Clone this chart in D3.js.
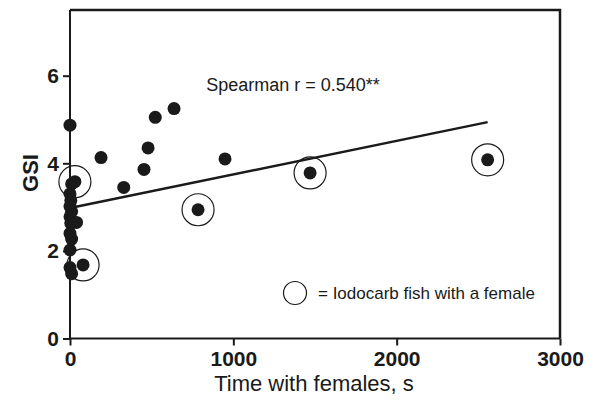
<!DOCTYPE html>
<html>
<head>
<meta charset="utf-8">
<script src="https://cdn.jsdelivr.net/npm/d3@7"></script>
<style>
  body { margin: 0; background: #fff; }
  svg { display: block; font-family: "Liberation Sans", Arial, sans-serif; }
  .axis path, .axis line { stroke: #1a1a1a; stroke-width: 2; }
  .axis text { font-size: 21px; font-weight: bold; fill: #1a1a1a; }
</style>
</head>
<body>
<svg id="chart"></svg>
<script>
// plain fish (filled dots)
let timeS = [0, 10, 0, 5, 0, 10, 0, 40, 5, 0, 10, 0, 0, 10,
    190, 329, 453, 478, 522, 637, 949];
let gsi = [4.87, 3.53, 3.30, 3.15, 3.02, 2.90, 2.78, 2.65, 2.63, 2.40, 2.27, 2.02, 1.62, 1.48,
    4.13, 3.45, 3.86, 4.35, 5.05, 5.25, 4.10];

// Iodocarb fish with a female (circled dots)
let circTime = [30, 80, 784, 1470, 2557];
let circGsi = [3.58, 1.68, 2.94, 3.78, 4.08];

// regression line ends
let fitX = [0, 2557];
let fitY = [2.98, 4.94];

let xTicks = [0, 1000, 2000, 3000];
let yTicks = [0, 2, 4, 6];

let width = 594, height = 404;
let plotL = 70, plotR = 560, plotT = 10, plotB = 338.5;

let svg = d3.select('#chart')
    .attr('width', width)
    .attr('height', height);

let x = d3.scaleLinear().domain([0, 3000]).range([plotL, plotR]);
let y = d3.scaleLinear().domain([0, 7.5]).range([plotB, plotT]);

// frame (top + right)
svg.append('path')
    .attr('d', 'M' + plotL + ',' + plotT + 'H' + plotR + 'V' + plotB)
    .attr('fill', 'none')
    .attr('stroke', '#1a1a1a')
    .attr('stroke-width', 2.5);

let xAxis = svg.append('g')
    .attr('class', 'axis')
    .attr('transform', 'translate(0,' + plotB + ')')
    .call(d3.axisBottom(x).tickValues(xTicks).tickFormat(d3.format('d')).tickSizeOuter(0).tickSize(7).tickPadding(6));

let yAxis = svg.append('g')
    .attr('class', 'axis')
    .attr('transform', 'translate(' + plotL + ',0)')
    .call(d3.axisLeft(y).tickValues(yTicks).tickSizeOuter(0).tickSize(7).tickPadding(4));
yAxis.select('.domain').attr('d', 'M0,' + plotB + 'V' + plotT);
xAxis.select('.domain').attr('d', 'M' + plotL + ',0H' + plotR);

// regression line
svg.append('line')
    .attr('x1', x(fitX[0])).attr('y1', y(fitY[0]))
    .attr('x2', x(fitX[1])).attr('y2', y(fitY[1]))
    .attr('stroke', '#1a1a1a')
    .attr('stroke-width', 2.5);

let pts = timeS.map(function (d, i) { return {t: d, g: gsi[i]}; });
let circ = circTime.map(function (d, i) { return {t: d, g: circGsi[i]}; });

svg.selectAll('.ring')
    .data(circ)
    .enter()
    .append('circle')
    .attr('class', 'ring')
    .attr('cx', function (d) { return x(d.t); })
    .attr('cy', function (d) { return y(d.g); })
    .attr('r', 16)
    .attr('fill', 'none')
    .attr('stroke', '#1a1a1a')
    .attr('stroke-width', 1.2);

svg.selectAll('.dot')
    .data(pts.concat(circ))
    .enter()
    .append('circle')
    .attr('class', 'dot')
    .attr('cx', function (d) { return x(d.t); })
    .attr('cy', function (d) { return y(d.g); })
    .attr('r', 6.5)
    .attr('fill', '#1a1a1a');

// annotation
svg.append('text')
    .attr('x', 293).attr('y', 91)
    .attr('text-anchor', 'middle')
    .style('font-size', '18px')
    .attr('fill', '#1a1a1a')
    .text('Spearman r = 0.540**');

// legend
svg.append('circle')
    .attr('cx', 295).attr('cy', 293)
    .attr('r', 11.5)
    .attr('fill', 'none')
    .attr('stroke', '#1a1a1a')
    .attr('stroke-width', 1.2);
svg.append('text')
    .attr('x', 318).attr('y', 299)
    .style('font-size', '17px')
    .attr('fill', '#1a1a1a')
    .text('= Iodocarb fish with a female');

// axis titles
svg.append('text')
    .attr('transform', 'translate(38,173) rotate(-90)')
    .attr('text-anchor', 'middle')
    .style('font-size', '22px')
    .style('font-weight', 'bold')
    .attr('fill', '#1a1a1a')
    .text('GSI');

svg.append('text')
    .attr('x', 314).attr('y', 391)
    .attr('text-anchor', 'middle')
    .style('font-size', '22px')
    .attr('fill', '#1a1a1a')
    .text('Time with females, s');
</script>
</body>
</html>
